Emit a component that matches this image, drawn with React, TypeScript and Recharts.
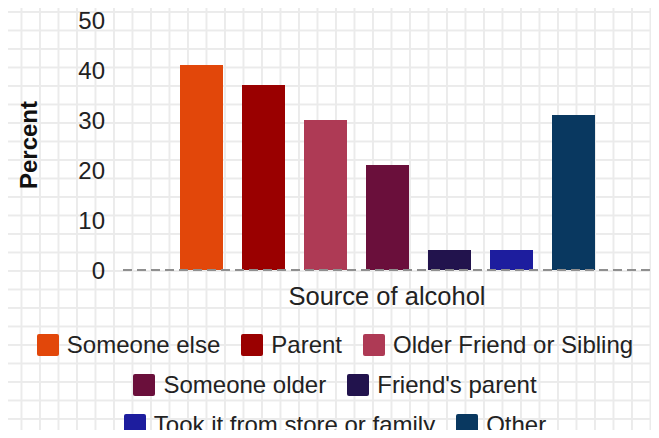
import { BarChart, Bar, XAxis, YAxis, ReferenceLine, Legend } from 'recharts';

const sources = [
  'Someone else',
  'Parent',
  'Older Friend or Sibling',
  'Someone older',
  "Friend's parent",
  'Took it from store or family',
  'Other',
];
const percents = [41, 37, 30, 21, 4, 4, 31];
const colors = ['#e2470a', '#9a0000', '#ae3a55', '#6a0f3b', '#22134d', '#1d1d9e', '#093860'];
const yTicks = [0, 10, 20, 30, 40, 50];
const categoryLabel = 'Source of alcohol';

const row: Record<string, string | number> = { name: categoryLabel };
sources.forEach((s, i) => {
  row[s] = percents[i];
});
const data = [row];

const font = '"Liberation Sans", Arial, sans-serif';

// legend keeps the series order (recharts would sort it by name)
function LegendBox() {
  return (
    <div
      style={{
        display: 'flex',
        flexWrap: 'wrap',
        justifyContent: 'center',
        columnGap: 21,
        fontFamily: font,
      }}
    >
      {sources.map((s, i) => (
        <div key={s} style={{ display: 'flex', alignItems: 'center', height: 40 }}>
          <span
            style={{
              width: 22,
              height: 22,
              background: colors[i],
              borderRadius: 2,
              marginRight: 8,
              display: 'inline-block',
            }}
          />
          <span style={{ fontSize: 24, color: '#222' }}>{s}</span>
        </div>
      ))}
    </div>
  );
}

export default function App() {
  return (
    <div
      style={{
        margin: -8,
        width: 659,
        height: 438,
        overflow: 'hidden',
        position: 'relative',
        backgroundColor: '#fff',
        backgroundImage:
          'linear-gradient(to right, #ebebeb 1.5px, transparent 1.5px), linear-gradient(to bottom, #ebebeb 1.5px, transparent 1.5px)',
        backgroundSize: '18.5px 18.5px',
        backgroundPosition: '2px 11px',
      }}
    >
      <BarChart
        width={659}
        height={438}
        data={data}
        margin={{ top: 20, right: 8, left: 0, bottom: 128 }}
        barSize={43}
        barGap={19}
        style={{ fontFamily: font }}
      >
        <XAxis
          dataKey="name"
          height={40}
          tick={false}
          tickLine={false}
          axisLine={false}
          label={{
            value: categoryLabel,
            position: 'insideTop',
            offset: 17,
            fontSize: 25.5,
            fill: '#222',
          }}
        />
        <YAxis
          width={123}
          domain={[0, 50]}
          ticks={yTicks}
          axisLine={false}
          tickLine={false}
          tickSize={0}
          tickMargin={18}
          tick={{ fontSize: 24, fill: '#222' }}
          label={{
            value: 'Percent',
            angle: -90,
            position: 'insideLeft',
            offset: 28,
            fontSize: 24,
            fontWeight: 'bold',
            fill: '#111',
            textAnchor: 'middle',
          }}
        />
        <ReferenceLine y={0} stroke="#8f8f8f" strokeWidth={2} strokeDasharray="9 5" />
        {sources.map((s, i) => (
          <Bar key={s} dataKey={s} fill={colors[i]} isAnimationActive={false} />
        ))}
        <Legend
          verticalAlign="middle"
          align="center"
          content={<LegendBox />}
          wrapperStyle={{ top: 325, left: 25, width: 620 }}
        />
      </BarChart>
    </div>
  );
}
